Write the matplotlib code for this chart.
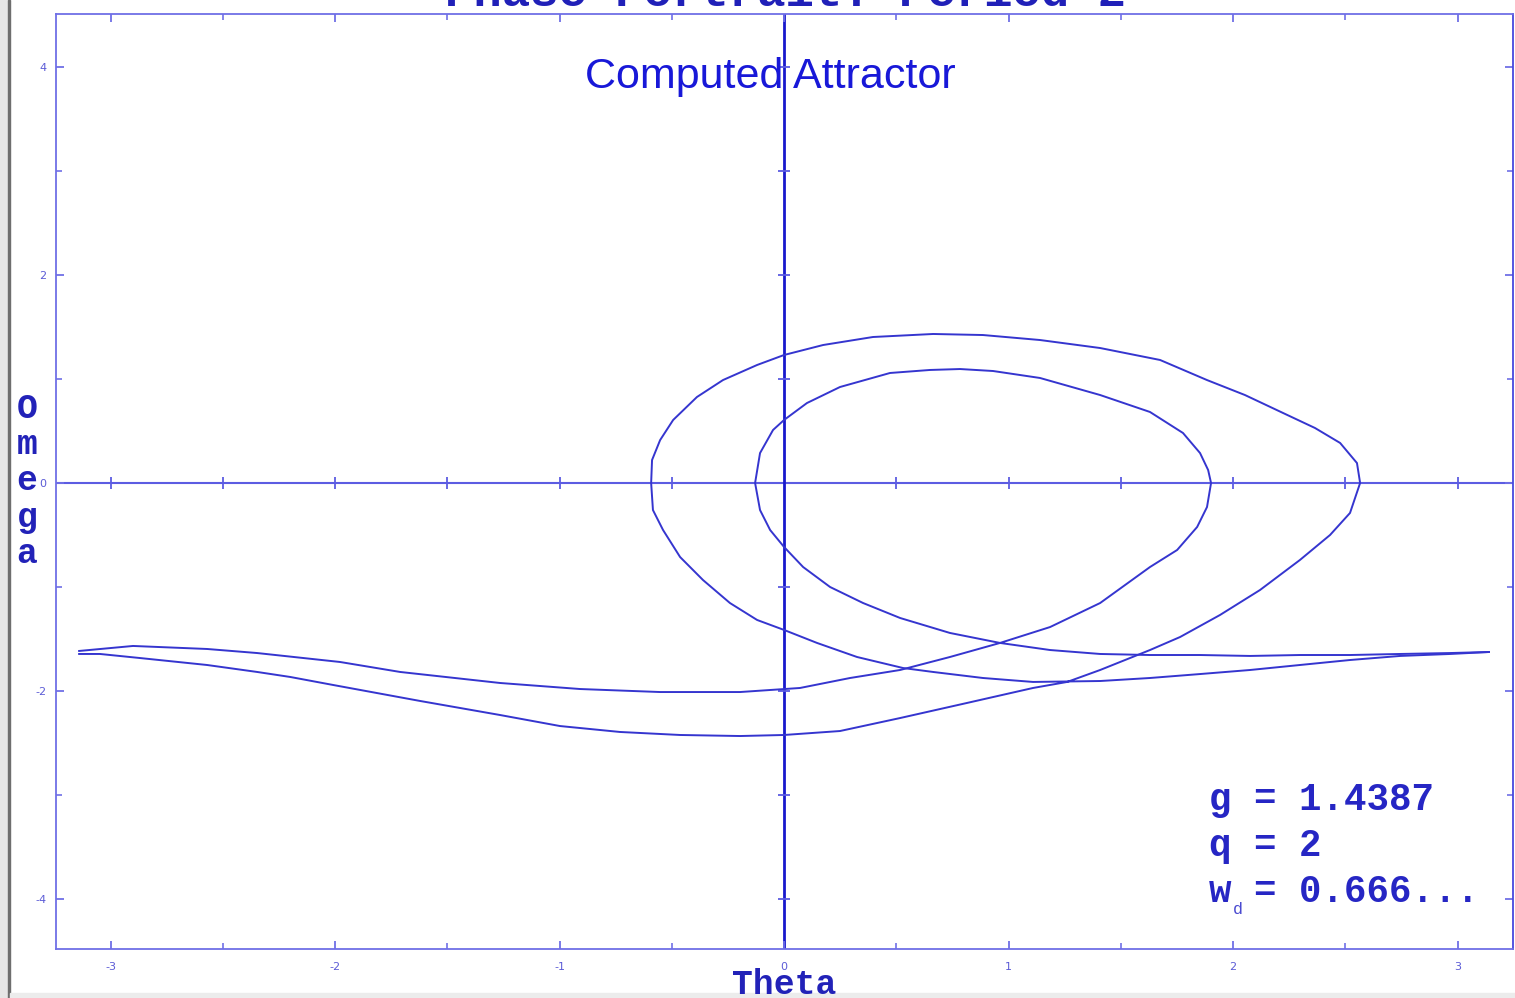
import matplotlib
matplotlib.use("Agg")
import matplotlib.pyplot as plt
from matplotlib.patches import Rectangle
from matplotlib.ticker import MultipleLocator

# period-2 orbit of the driven pendulum, theta wrapped to [-pi, pi]
# branch A: inner loop, leaves through theta = -pi along the upper strand
theta_a = [3.140, 2.967, 2.744, 2.521, 2.298, 2.076, 1.853, 1.630, 1.408, 1.185,
           0.962, 0.739, 0.517, 0.352, 0.205, 0.085, 0.000, -0.062, -0.107, -0.129,
           -0.107, -0.049, 0.000, 0.102, 0.249, 0.472, 0.650, 0.784, 0.931, 1.140,
           1.408, 1.630, 1.777, 1.853, 1.889, 1.902, 1.884, 1.840, 1.751, 1.630,
           1.408, 1.185, 0.962, 0.739, 0.517, 0.294, 0.071, -0.196, -0.552, -0.909,
           -1.265, -1.710, -1.978, -2.347, -2.570, -2.900, -3.140]
omega_a = [-1.625, -1.635, -1.644, -1.654, -1.654, -1.663, -1.654, -1.654, -1.644, -1.606,
           -1.538, -1.442, -1.298, -1.154, -1.000, -0.808, -0.615, -0.452, -0.260, 0.000,
           0.288, 0.510, 0.606, 0.769, 0.923, 1.058, 1.087, 1.096, 1.077, 1.010,
           0.846, 0.683, 0.481, 0.288, 0.125, 0.000, -0.231, -0.423, -0.644, -0.808,
           -1.154, -1.385, -1.538, -1.673, -1.798, -1.875, -1.971, -2.010, -2.010, -1.981,
           -1.923, -1.817, -1.721, -1.635, -1.596, -1.567, -1.615]

# branch B: outer loop, leaves through theta = -pi along the lower strand
theta_b = [3.140, 2.967, 2.744, 2.521, 2.298, 2.076, 1.853, 1.630, 1.408, 1.109,
           0.886, 0.664, 0.530, 0.325, 0.147, 0.000, -0.120, -0.241, -0.361, -0.463,
           -0.539, -0.584, -0.592, -0.588, -0.552, -0.494, -0.388, -0.272, -0.120, 0.000,
           0.174, 0.396, 0.664, 0.886, 1.140, 1.408, 1.675, 1.884, 2.053, 2.223,
           2.365, 2.477, 2.552, 2.566, 2.521, 2.432, 2.298, 2.120, 1.942, 1.764,
           1.630, 1.408, 1.261, 1.109, 0.815, 0.517, 0.249, 0.000, -0.196, -0.463,
           -0.731, -0.998, -1.265, -1.621, -2.009, -2.200, -2.347, -2.570, -2.869,
           -3.047, -3.140]
omega_b = [-1.625, -1.644, -1.663, -1.702, -1.750, -1.798, -1.837, -1.875, -1.904, -1.913,
           -1.875, -1.817, -1.779, -1.673, -1.538, -1.413, -1.317, -1.154, -0.933, -0.712,
           -0.452, -0.260, 0.000, 0.221, 0.413, 0.606, 0.827, 0.990, 1.135, 1.231,
           1.327, 1.404, 1.433, 1.423, 1.375, 1.298, 1.183, 0.990, 0.846, 0.673,
           0.529, 0.385, 0.192, 0.000, -0.288, -0.500, -0.740, -1.029, -1.269, -1.481,
           -1.606, -1.798, -1.913, -1.971, -2.115, -2.260, -2.385, -2.423, -2.433, -2.423,
           -2.394, -2.337, -2.231, -2.096, -1.942, -1.865, -1.817, -1.750, -1.683,
           -1.644, -1.644]

x_labels = [-3, -2, -1, 0, 1, 2, 3]
y_labels = [-4, -2, 0, 2, 4]
params = ["g = 1.4387", "q = 2", "w = 0.666..."]

W, H = 1515, 998
fx = lambda px: px / W
fy = lambda py: 1 - py / H

plt.rcParams["axes.unicode_minus"] = False
mono = ["Liberation Mono", "DejaVu Sans Mono"]
frame_c = "#6f6fe6"
curve_c = "#3535cf"
text_c = "#1818d8"

fig = plt.figure(figsize=(W / 100, H / 100), dpi=100)
fig.patch.set_facecolor("white")
# window edge on the left and bottom
fig.patches.append(Rectangle((0, 0), fx(8), 1, transform=fig.transFigure,
                             color="#e6e6e6", zorder=-2))
fig.patches.append(Rectangle((fx(8), 0), fx(2), 1, transform=fig.transFigure,
                             color="#6e6e6e", zorder=-2))
fig.patches.append(Rectangle((fx(10), 0), 1, fy(993), transform=fig.transFigure,
                             color="#ececec", zorder=-2))

ax = fig.add_axes([fx(56), fy(949), fx(1513) - fx(56), fy(14) - fy(949)])
ax.set_xlim(-3.243, 3.247)
ax.set_ylim(-4.481, 4.510)

for side in ax.spines.values():
    side.set_color(frame_c)
    side.set_linewidth(1.3)
ax.spines["right"].set_color("#4848dd")

ax.xaxis.set_major_locator(MultipleLocator(1))
ax.xaxis.set_minor_locator(MultipleLocator(0.5))
ax.yaxis.set_major_locator(MultipleLocator(2))
ax.yaxis.set_minor_locator(MultipleLocator(1))
ax.set_xticks(x_labels)
ax.set_yticks(y_labels)
ax.tick_params(which="both", direction="in", top=True, right=True,
               color=frame_c, labelcolor="#5b5bd6", labelsize=8)
ax.tick_params(which="major", length=6, width=1.3)
ax.tick_params(which="minor", length=4, width=1.2)
ax.tick_params(axis="x", pad=9)
ax.tick_params(axis="y", pad=7)

# axes through the origin, with their own tick crosses
ax.axhline(0, color="#5c5ce2", lw=1.5, zorder=1)
ax.axvline(0, color="#1818cc", lw=2.0, zorder=1)
hx = [t for t in ax.xaxis.get_minorticklocs() if abs(t) > 1e-9 and abs(t) < 3.2] + \
     [t for t in x_labels if t != 0]
vy = [t for t in ax.yaxis.get_minorticklocs() if abs(t) > 1e-9] + \
     [t for t in y_labels if t != 0]
ax.plot(hx, [0] * len(hx), ls="none", marker="|", ms=8, mew=1.3, color="#5c5ce2", zorder=1)
ax.plot([0] * len(vy), vy, ls="none", marker="_", ms=8, mew=1.3, color="#5c5ce2", zorder=1)

ax.plot(theta_a, omega_a, color=curve_c, lw=1.4, zorder=3, solid_joinstyle="round")
ax.plot(theta_b, omega_b, color=curve_c, lw=1.4, zorder=3, solid_joinstyle="round")

fig.text(fx(770), fy(88), "Computed Attractor", ha="center", va="baseline",
         fontsize=31, family="Liberation Sans", color=text_c)

fig.text(fx(785), fy(6), "Phase Portrait: Period 2", ha="center", va="baseline",
         fontsize=34, family=mono, weight="bold", color="#2020b8")
fig.text(fx(27), fy(481), "O\nm\ne\ng\na", ha="center", va="center",
         fontsize=25, family=mono, weight="bold", color="#2222b8",
         linespacing=1.13)
fig.text(fx(784), fy(994), "Theta", ha="center", va="baseline",
         fontsize=25, family=mono, weight="bold", color="#2222b8")

for i, s in enumerate(params):
    fig.text(fx(1209), fy(810 + 46 * i), s, ha="left", va="baseline",
             fontsize=27, family=mono, weight="bold", color="#2626c4")
fig.text(fx(1233), fy(914), "d", ha="left", va="baseline",
         fontsize=12, family=mono, color="#4a4ad0")

fig.savefig("out.png", dpi=100)
